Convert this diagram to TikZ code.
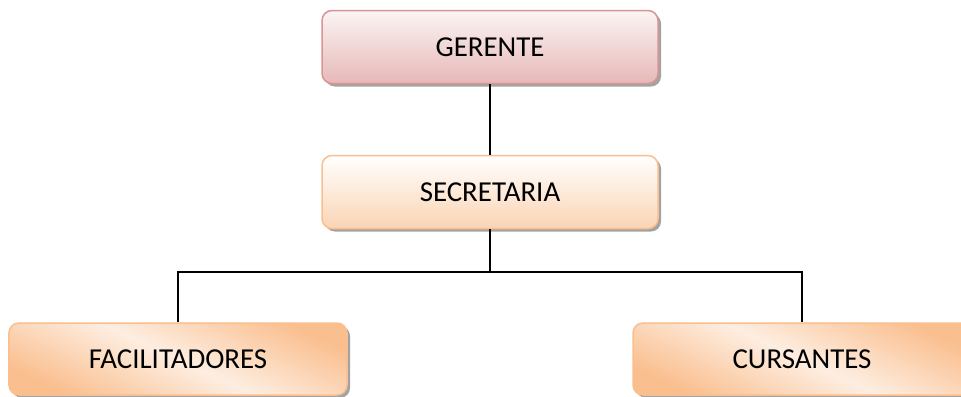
\documentclass[tikz,border=0pt]{standalone}
\usepackage{fontspec}
\setmainfont{Carlito}
\usetikzlibrary{shadows}
\definecolor{roseB}{HTML}{D99594}
\definecolor{roseF}{HTML}{E6B8B7}
\definecolor{peachB}{HTML}{FABF8F}
\definecolor{peachF}{HTML}{FBD4B4}
\tikzset{
  box/.style={rounded corners=10bp, line width=1.5bp, minimum height=73bp, minimum width=336bp,
    font=\fontsize{29}{32}\selectfont, text=black,
    drop shadow={shadow xshift=3bp, shadow yshift=-3bp, fill=black!45, opacity=0.8}},
  topbox/.style={box, draw=roseB, top color=white!85!roseF, bottom color=roseF},
  midbox/.style={box, draw=peachB, top color=white, bottom color=peachF},
  lowbox/.style={box, draw=peachB, top color=peachB, bottom color=peachB, middle color=white!60!peachF, shading angle=-25},
  link/.style={line width=1.3bp, black}
}
\begin{document}
\begin{tikzpicture}[x=1bp,y=-1bp]
\useasboundingbox (0,0) rectangle (961,396);
\node[topbox] (ger) at (490,47) {GERENTE};
\node[midbox] (sec) at (490,192) {SECRETARIA};
\node[lowbox, minimum width=338bp, minimum height=72bp] (fac) at (178,359) {FACILITADORES};
\node[lowbox, minimum width=338bp, minimum height=72bp] (cur) at (802,359) {CURSANTES};
\coordinate (bus) at (490,272);
\draw[link] (ger.south) -- (sec.north);
\draw[link] (sec.south) -- (bus);
\draw[link] (fac.north) -- (fac.north |- bus) -- (cur.north |- bus) -- (cur.north);
\end{tikzpicture}
\end{document}
